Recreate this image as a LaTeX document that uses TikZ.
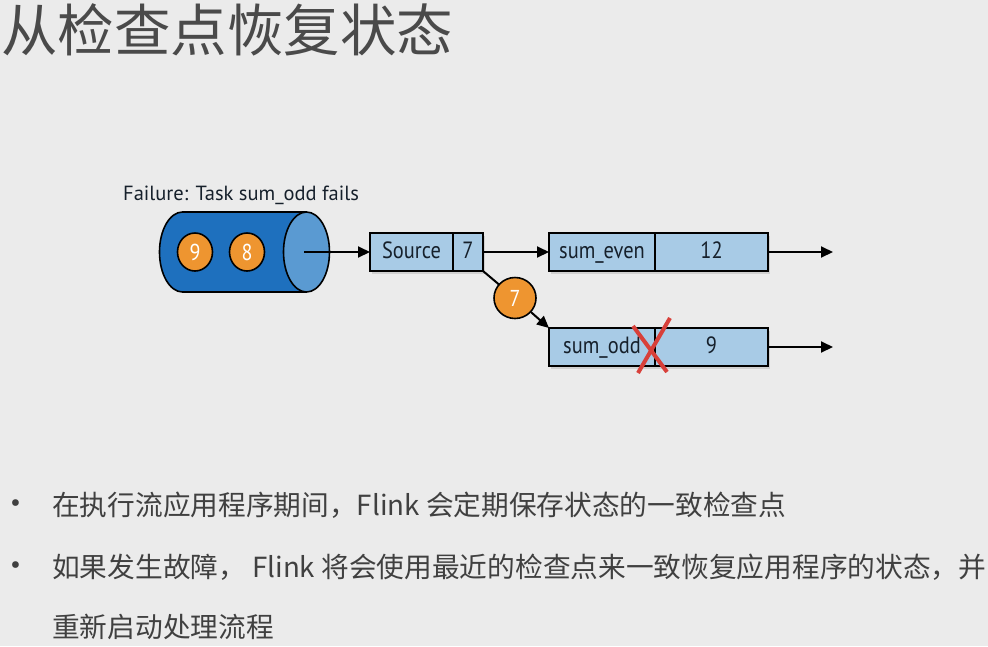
\documentclass[tikz,border=0pt]{standalone}
\usepackage{fontspec}
\setmainfont{PT Sans}
\newfontfamily\narrowsans[FakeStretch=0.87]{PT Sans}
\newfontfamily\cjk{Noto Sans CJK SC}
\usetikzlibrary{positioning,shapes.geometric,shadows,arrows.meta}
\definecolor{slidebg}{HTML}{EBEBEB}
\definecolor{titlegray}{HTML}{4A4A4A}
\definecolor{bodygray}{HTML}{404040}
\definecolor{boxblue}{HTML}{A8CBE6}
\definecolor{textdark}{HTML}{16202B}
\definecolor{qblue}{HTML}{1E70BE}
\definecolor{qface}{HTML}{5A9AD2}
\definecolor{tokorange}{HTML}{EE9530}
\definecolor{failred}{HTML}{D8403A}

\begin{document}
\begin{tikzpicture}[x=1pt, y=-1pt,
  part/.style={draw=black, line width=1.6pt, fill=boxblue, minimum height=38pt,
    inner sep=0pt, outer sep=0pt, text=textdark, font=\narrowsans\fontsize{23.5}{23.5}\selectfont,
    text height=16pt, text depth=4pt,
    drop shadow={shadow xshift=2pt, shadow yshift=-3pt, opacity=0.25}},
  tok/.style={ellipse, draw=black, line width=1.6pt, fill=tokorange, text=white,
    minimum width=35pt, minimum height=38pt, inner sep=0pt,
    font=\narrowsans\fontsize{23}{23}\selectfont},
  flow/.style={line width=2pt, arrows=-{Triangle[length=12pt,width=11pt]}},
  bullet/.style={anchor=west, inner sep=0pt, text=bodygray,
    font=\cjk\fontsize{27.7}{27.7}\selectfont}]
\useasboundingbox (0,0) rectangle (988,646);
\fill[slidebg] (0,0) rectangle (988,646);

% title
\node (title) [anchor=west, inner sep=0pt, text=titlegray, font=\cjk\fontsize{56.5}{56.5}\selectfont] at (1,30) {从检查点恢复状态};

% failure caption and queue
\node (queue) [cylinder, draw=black, line width=1.6pt, minimum width=80pt, minimum height=170pt,
  aspect=6.9, cylinder uses custom fill, cylinder body fill=qblue, cylinder end fill=qface] at (228,252) {};
\node (caption) [anchor=west, inner sep=0pt, text=textdark, font=\fontsize{20.5}{20.5}\selectfont] at (123,195) {Failure: Task sum\_odd fails};
\node (nine) [tok] at (195,252) {9};
\node (eight) [tok] at (247,252) {8};
\coordinate (qout) at (304,252);

% operators
\node (src)  [part, minimum width=83pt, anchor=west] at (370,252) {Source};
\node (srcv) [part, minimum width=30pt, right=0pt of src] {7};
\node (even)  [part, minimum width=106pt, anchor=west] at (549,252) {sum\_even};
\node (evenv) [part, minimum width=113pt, right=0pt of even] {12};
\node (odd)  [part, minimum width=106pt, anchor=west] at (549,347) {sum\_odd};
\node (oddv) [part, minimum width=113pt, right=0pt of odd] {9};
\coordinate (evenout) at (833,252);
\coordinate (oddout) at (833,347);

% connections
\draw[flow] (qout) -- (src);
\draw[flow] (srcv) -- (even);
\draw[flow] (evenv) -- (evenout);
\draw[flow] (oddv) -- (oddout);
\draw[line width=2pt] (srcv.south east) -- (515,298);
\node (seven) [tok, minimum width=42pt, minimum height=41pt] at (515,298) {7};
\draw[flow] (seven) -- (odd.north west);

% failed task
\draw[failred, line width=4pt] ([shift={(-22,-2)}]oddv.north west) -- ([shift={(12,44)}]oddv.north west);
\draw[failred, line width=4pt] ([shift={(15,-10)}]oddv.north west) -- ([shift={(-17,45)}]oddv.north west);

% bullets
\node (dot1) [bullet, font=\fontsize{24}{24}\selectfont] at (10,505) {\textbullet};
\node (dot2) [bullet, font=\fontsize{24}{24}\selectfont] at (10,567) {\textbullet};
\node (line1) [bullet] at (52,505) {在执行流应用程序期间，Flink 会定期保存状态的一致检查点};
\node (line2) [bullet] at (52,567) {如果发生故障， Flink 将会使用最近的检查点来一致恢复应用程序的状态，并};
\node (line3) [bullet] at (52,627) {重新启动处理流程};
\end{tikzpicture}
\end{document}
